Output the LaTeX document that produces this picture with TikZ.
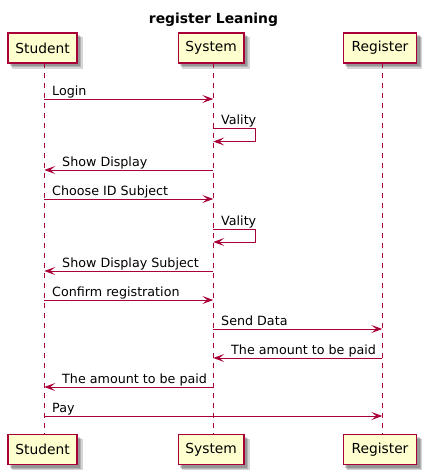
\documentclass[tikz,border=0pt]{standalone}
\usepackage{fontspec}
\setmainfont{DejaVu Sans}
\usetikzlibrary{arrows.meta}
\definecolor{puml}{RGB}{168,0,54}
\definecolor{pfill}{RGB}{254,254,206}
\tikzset{
  partbox/.style={draw=puml, line width=1.5pt, fill=pfill, minimum height=30pt, inner sep=0pt,
    font=\fontsize{13.8}{16}\selectfont, text=black},
  shadowbox/.style={fill=black, opacity=0.16, draw=none},
  lifeline/.style={draw=puml, line width=1pt, dash pattern=on 5pt off 5pt},
  msg/.style={draw=puml, line width=1pt, -{Stealth[length=11pt,width=8pt,inset=5pt]}},
  msglabel/.style={anchor=base west, inner sep=0pt, font=\fontsize{12.7}{15}\selectfont},
}
\begin{document}
\begin{tikzpicture}[x=1pt,y=-1pt]
\useasboundingbox (0,0) rectangle (427,475);
\fill[white] (0,0) rectangle (427,475);
% title
\node[anchor=base, inner sep=0pt, font=\fontsize{13.9}{16}\bfseries] (title) at (213.5,23) {register Leaning};
% shadows
\foreach \a/\b/\c/\d in {8/33/77/63, 178.3/33/244/63, 343.3/33/416.7/63, 8/434.5/77/464.5, 178.3/434.5/244/464.5, 343.3/434.5/416.7/464.5}{
  \fill[shadowbox] (\a+2,\b+2) rectangle (\c+3,\d+3);
  \fill[shadowbox] (\a+3,\b+3) rectangle (\c+4,\d+4);
  \fill[shadowbox] (\a+4,\b+4) rectangle (\c+5.5,\d+5.5);
}
% lifeline coordinates
\coordinate (stuA) at (44.3,63);  \coordinate (stuZ) at (44.3,434.5);
\coordinate (sysA) at (213.3,63); \coordinate (sysZ) at (213.3,434.5);
\coordinate (regA) at (382.3,63); \coordinate (regZ) at (382.3,434.5);
\draw[lifeline] (stuA) -- (stuZ);
\draw[lifeline] (sysA) -- (sysZ);
\draw[lifeline] (regA) -- (regZ);
% participants
\node[partbox, minimum width=69pt] (stuT) at (42.5,48) {Student};
\node[partbox, minimum width=65.7pt] (sysT) at (211.15,48) {System};
\node[partbox, minimum width=73.4pt] (regT) at (380,48) {Register};
\node[partbox, minimum width=69pt] (stuB) at (42.5,449.5) {Student};
\node[partbox, minimum width=65.7pt] (sysB) at (211.15,449.5) {System};
\node[partbox, minimum width=73.4pt] (regB) at (380,449.5) {Register};
% messages
% 1 Login
\coordinate (m1a) at (stuA |- 0,99); \coordinate (m1b) at (sysA |- 0,99);
\draw[msg] (m1a) -- (m1b);
\node[msglabel] (l1) at (52,95.3) {Login};
% 2 Vality
\coordinate (m2a) at (sysA |- 0,128.5); \coordinate (m2b) at (sysA |- 0,141.5);
\draw[msg] (m2a) -- ++(42,0) |- (m2b);
\node[msglabel] (l2) at (221,124.5) {Vality};
% 3 Show Display
\coordinate (m3a) at (sysA |- 0,170); \coordinate (m3b) at (stuA |- 0,170);
\draw[msg] (m3a) -- (m3b);
\node[msglabel] (l3) at (62,166.3) {Show Display};
% 4 Choose ID Subject
\coordinate (m4a) at (stuA |- 0,199); \coordinate (m4b) at (sysA |- 0,199);
\draw[msg] (m4a) -- (m4b);
\node[msglabel] (l4) at (52,195.3) {Choose ID Subject};
% 5 Vality
\coordinate (m5a) at (sysA |- 0,229.5); \coordinate (m5b) at (sysA |- 0,242);
\draw[msg] (m5a) -- ++(42,0) |- (m5b);
\node[msglabel] (l5) at (221,225.5) {Vality};
% 6 Show Display Subject
\coordinate (m6a) at (sysA |- 0,271); \coordinate (m6b) at (stuA |- 0,271);
\draw[msg] (m6a) -- (m6b);
\node[msglabel] (l6) at (62,267.3) {Show Display Subject};
% 7 Confirm registration
\coordinate (m7a) at (stuA |- 0,300); \coordinate (m7b) at (sysA |- 0,300);
\draw[msg] (m7a) -- (m7b);
\node[msglabel] (l7) at (52,296.3) {Confirm registration};
% 8 Send Data
\coordinate (m8a) at (sysA |- 0,329); \coordinate (m8b) at (regA |- 0,329);
\draw[msg] (m8a) -- (m8b);
\node[msglabel] (l8) at (221,325.3) {Send Data};
% 9 amount reg->sys
\coordinate (m9a) at (regA |- 0,358); \coordinate (m9b) at (sysA |- 0,358);
\draw[msg] (m9a) -- (m9b);
\node[msglabel] (l9) at (231,354.3) {The amount to be paid};
% 10 amount sys->stu
\coordinate (m10a) at (sysA |- 0,387); \coordinate (m10b) at (stuA |- 0,387);
\draw[msg] (m10a) -- (m10b);
\node[msglabel] (l10) at (62,383.3) {The amount to be paid};
% 11 Pay
\coordinate (m11a) at (stuA |- 0,416); \coordinate (m11b) at (regA |- 0,416);
\draw[msg] (m11a) -- (m11b);
\node[msglabel] (l11) at (52,412.3) {Pay};
\end{tikzpicture}
\end{document}
